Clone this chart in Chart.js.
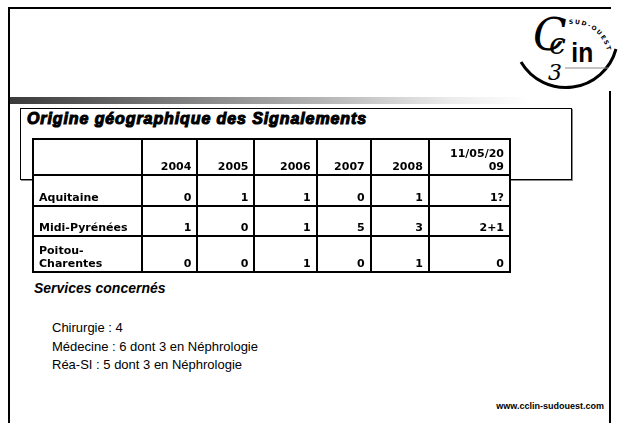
<!DOCTYPE html>
<html lang="fr">
<head>
<meta charset="utf-8">
<title>Origine géographique des Signalements</title>
<script src="https://cdn.jsdelivr.net/npm/chart.js@4"></script>
<style>
  html, body { margin: 0; padding: 0; background: #fff; }
  body { width: 618px; height: 423px; position: relative; overflow: hidden; font-family: "Liberation Sans", Arial, sans-serif; }
  .frame { position: absolute; left: 8px; top: 7px; width: 603px; height: 430px; border: 2px solid #000; box-sizing: border-box; }
  .bar { position: absolute; left: 10px; top: 97px; width: 520px; height: 7px;
         background: linear-gradient(to right, #3a3a3a 0%, #7a7a7a 30%, #b5b5b5 60%, #ececec 85%, #fff 100%); }
  .titlebox { position: absolute; left: 20px; top: 108px; width: 552px; height: 72px; border: 1px solid #000;
              box-shadow: 1px 1px 0 #888; box-sizing: border-box; background: #fff; }
  .title { position: absolute; left: 27px; top: 110px; font-size: 16px; font-weight: bold; font-style: italic;
           -webkit-text-stroke: 1.1px #000; letter-spacing: 0.9px; }
  #tableWrap { position: absolute; left: 32px; top: 138px; width: 479px; height: 135px; background: #fff; }
  .services { position: absolute; left: 34px; top: 280px; font-size: 14px; font-weight: bold; font-style: italic; }
  .list { position: absolute; left: 52px; top: 319px; font-size: 13px; line-height: 18.5px; }
  .url { position: absolute; right: 14px; top: 401px; font-size: 9px; font-weight: bold; }
  .logo { position: absolute; left: 515px; top: 0px; background: transparent; }
</style>
</head>
<body>
<div class="frame"></div>
<svg class="logo" width="103" height="100" viewBox="0 0 103 100">
  <rect x="14" y="9" width="85" height="82" fill="#fff"/>
  <path id="arcTop" d="M 54 24 A 35 35 0 0 1 93 62" fill="none"/>
  <text font-family="DejaVu Sans" font-size="6" font-weight="bold" letter-spacing="1.4"><textPath href="#arcTop">SUD-OUEST</textPath></text>
  <path d="M 6 62 A 52 52 0 0 0 101 49" fill="none" stroke="#000" stroke-width="3"/>
  <path d="M 50 68 L 93 68" stroke="#888" stroke-width="1"/>
  <text x="18" y="50" font-family="DejaVu Serif" font-style="italic" font-size="44" fill="#000">C</text>
  <text x="34" y="54" font-family="DejaVu Serif" font-style="italic" font-size="30" fill="#000">c</text>
  <text x="64" y="62" font-family="Liberation Sans" font-weight="bold" font-size="28" fill="#000" transform="scale(0.88,1)">in</text>
  <text x="33" y="80" font-family="DejaVu Serif" font-style="italic" font-size="22" fill="#000">3</text>
</svg>
<div class="bar"></div>
<div class="titlebox"></div>
<div class="title">Origine géographique des Signalements</div>
<div id="tableWrap"><canvas id="myChart" width="479" height="135"></canvas></div>
<div class="services">Services concernés</div>
<div class="list">Chirurgie : 4<br>Médecine : 6 dont 3 en Néphrologie<br>Réa-SI : 5 dont 3 en Néphrologie</div>
<div class="url">www.cclin-sudouest.com</div>

<script>
'use strict';

// DATA
let years = ['2004', '2005', '2006', '2007', '2008', '11/05/2009'];
let regions = ['Aquitaine', 'Midi-Pyrénées', 'Poitou-Charentes'];
let aquitaine = ['0', '1', '1', '0', '1', '1?'];
let midiPyrenees = ['1', '0', '1', '5', '3', '2+1'];
let poitouCharentes = ['0', '0', '1', '0', '1', '0'];

// header / row label text as shown in the cells (wrapped)
let yearLines = [['2004'], ['2005'], ['2006'], ['2007'], ['2008'], ['11/05/20', '09']];
let regionLines = [['Aquitaine'], ['Midi-Pyrénées'], ['Poitou-', 'Charentes']];

// LAYOUT (column widths / row heights in table units)
let colWidths = [109, 55, 57, 62, 54, 58, 81];
let rowHeights = [36, 30, 30, 36];

function sum(arr) {
  let s = 0;
  for (let i = 0; i < arr.length; i++) {
    s += arr[i];
  }
  return s;
}

function edges(arr) {
  let out = [0];
  for (let i = 0; i < arr.length; i++) {
    out.push(out[i] + arr[i]);
  }
  return out;
}

let allRows = [aquitaine, midiPyrenees, poitouCharentes];

// draws the grid and the cell text with the chart scales
const tablePlugin = {
  id: 'tablePlugin',
  afterDraw(chart) {
    const ctx = chart.ctx;
    const x = chart.scales.x;
    const y = chart.scales.y;
    const xe = edges(colWidths);
    const ye = edges(rowHeights);

    ctx.save();
    ctx.strokeStyle = '#000';
    ctx.lineWidth = 2;
    ctx.beginPath();
    for (let i = 0; i < xe.length; i++) {
      let px = Math.round(x.getPixelForValue(xe[i]));
      ctx.moveTo(px, y.getPixelForValue(0) - 1);
      ctx.lineTo(px, y.getPixelForValue(ye[ye.length - 1]) + 1);
    }
    for (let j = 0; j < ye.length; j++) {
      let py = Math.round(y.getPixelForValue(ye[j]));
      ctx.moveTo(x.getPixelForValue(0) - 1, py);
      ctx.lineTo(x.getPixelForValue(xe[xe.length - 1]) + 1, py);
    }
    ctx.stroke();

    ctx.fillStyle = '#000';
    ctx.font = 'bold 11px "DejaVu Sans", Verdana, sans-serif';
    ctx.textBaseline = 'alphabetic';
    const lineH = 13;

    function cellText(lines, col, row, align) {
      let bottom = y.getPixelForValue(ye[row + 1]) - 5;
      let tx;
      if (align === 'right') {
        tx = x.getPixelForValue(xe[col + 1]) - 6;
      } else {
        tx = x.getPixelForValue(xe[col]) + 6;
      }
      ctx.textAlign = align;
      for (let k = 0; k < lines.length; k++) {
        ctx.fillText(lines[k], tx, bottom - (lines.length - 1 - k) * lineH);
      }
    }

    for (let c = 0; c < years.length; c++) {
      cellText(yearLines[c], c + 1, 0, 'right');
    }
    for (let r = 0; r < regions.length; r++) {
      cellText(regionLines[r], 0, r + 1, 'left');
      for (let c = 0; c < years.length; c++) {
        cellText([allRows[r][c]], c + 1, r + 1, 'right');
      }
    }
    ctx.restore();
  }
};

const config = {
  type: 'scatter',
  data: { datasets: [] },
  options: {
    responsive: false,
    animation: false,
    layout: { padding: 1 },
    scales: {
      x: { type: 'linear', display: false, min: 0, max: sum(colWidths) },
      y: { type: 'linear', display: false, min: 0, max: sum(rowHeights), reverse: true }
    },
    plugins: {
      legend: { display: false },
      tooltip: { enabled: false }
    }
  },
  plugins: [tablePlugin]
};

const myChart = new Chart(document.getElementById('myChart'), config);
</script>
</body>
</html>
